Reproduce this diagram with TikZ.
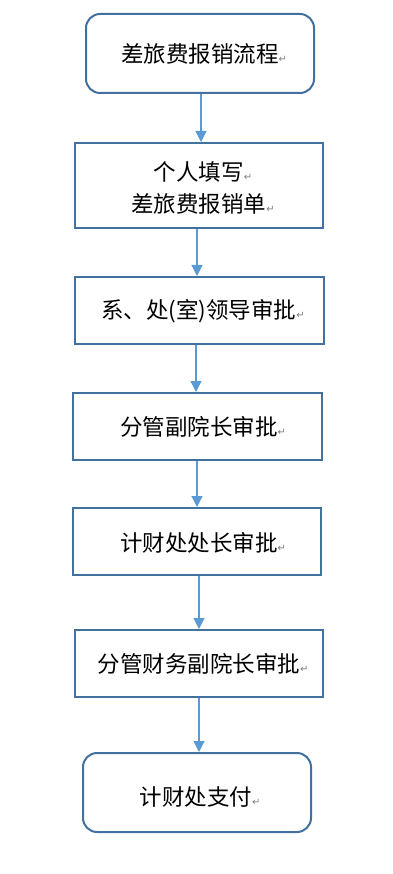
\documentclass[tikz,border=0pt]{standalone}
\usepackage{fontspec}
\setmainfont{Noto Sans CJK SC}
\newfontfamily\symfont{DejaVu Sans}
\usetikzlibrary{arrows.meta}
\definecolor{boxline}{HTML}{41719C}
\definecolor{arrowc}{HTML}{5B9BD5}
\tikzset{
  stepbox/.style={draw=boxline, line width=2pt, fill=white},
  roundbox/.style={draw=boxline, line width=2pt, fill=white, rounded corners=14pt},
  lbl/.style={font=\fontsize{22.5}{32.5}\selectfont, align=center, inner sep=0pt},
  flow/.style={draw=arrowc, line width=1.2pt, -{Triangle[length=11pt,width=11pt]}}
}
\newcommand{\pmark}{{\symfont\fontsize{10}{10}\selectfont\color{gray}↵}}
\begin{document}
\begin{tikzpicture}[x=1pt,y=-1pt]
\useasboundingbox (0,0) rectangle (392,874);
\draw[roundbox] (86,14) rectangle (314,93);
\node[lbl] (t1) at (204,54) {差旅费报销流程\pmark};
\draw[stepbox] (75,143) rectangle (323,228);
\node[lbl] (t2) at (203,188) {个人填写\pmark\\差旅费报销单\pmark};
\draw[stepbox] (75,277) rectangle (324,344);
\node[lbl] (t3) at (203,311) {系、处(室)领导审批\pmark};
\draw[stepbox] (73,393) rectangle (322,460);
\node[lbl] (t4) at (203,427) {分管副院长审批\pmark};
\draw[stepbox] (73,508) rectangle (321,575);
\node[lbl] (t5) at (203,543) {计财处处长审批\pmark};
\draw[stepbox] (75,630) rectangle (323,697);
\node[lbl] (t6) at (203,664) {分管财务副院长审批\pmark};
\draw[roundbox] (83,753) rectangle (311,832);
\node[lbl] (t7) at (200,797) {计财处支付\pmark};
\coordinate (a1s) at (201,94); \coordinate (a1e) at (201,142);
\coordinate (a2s) at (197,229); \coordinate (a2e) at (197,276);
\coordinate (a3s) at (196,345); \coordinate (a3e) at (196,392);
\coordinate (a4s) at (197,461); \coordinate (a4e) at (197,507);
\coordinate (a5s) at (199,576); \coordinate (a5e) at (199,629);
\coordinate (a6s) at (199,698); \coordinate (a6e) at (199,752);
\draw[flow] (a1s) -- (a1e);
\draw[flow] (a2s) -- (a2e);
\draw[flow] (a3s) -- (a3e);
\draw[flow] (a4s) -- (a4e);
\draw[flow] (a5s) -- (a5e);
\draw[flow] (a6s) -- (a6e);
\end{tikzpicture}
\end{document}
